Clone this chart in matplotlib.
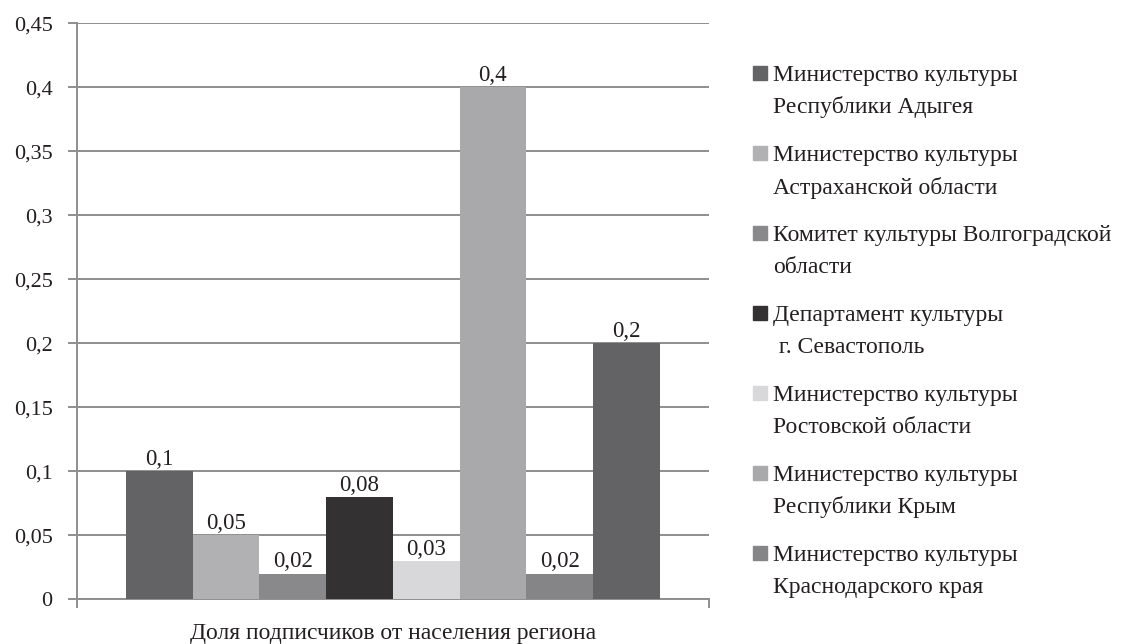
import matplotlib.pyplot as plt
from matplotlib.patches import Rectangle

plt.rcParams['font.family'] = ['Liberation Serif', 'DejaVu Serif']

# данные
labels = ['Министерство культуры\nРеспублики Адыгея',
          'Министерство культуры\nАстраханской области',
          'Комитет культуры Волгоградской\nобласти',
          'Департамент культуры\n г. Севастополь',
          'Министерство культуры\nРостовской области',
          'Министерство культуры\nРеспублики Крым',
          'Министерство культуры\nКраснодарского края']
values = [0.1, 0.05, 0.02, 0.08, 0.03, 0.4, 0.02, 0.2]
value_text = ['0,1', '0,05', '0,02', '0,08', '0,03', '0,4', '0,02', '0,2']
colors = ['#636365', '#b1b1b3', '#89898b', '#333132', '#d8d8da', '#a9a9ab', '#858587', '#636365']
yticks = [0, 0.05, 0.1, 0.15, 0.2, 0.25, 0.3, 0.35, 0.4, 0.45]
ytick_labels = ['0', '0,05', '0,1', '0,15', '0,2', '0,25', '0,3', '0,35', '0,4', '0,45']
xlabel = 'Доля подписчиков от населения региона'

txt = '#231f20'
grid = '#8e8e8e'

fig = plt.figure(figsize=(11.22, 6.44), dpi=100)
ax = fig.add_axes([0.0684, 0.0694, 0.5635, 0.8944])

n = len(values)
w = 0.844 / n
for i in range(n):
    x = -0.422 + w * (i + 0.5)
    ax.bar(x, values[i], width=w, color=colors[i], zorder=3)
    ax.annotate(value_text[i], (x, values[i]), xytext=(0, 1), textcoords='offset points',
                ha='center', va='bottom', fontsize=16.5, color=txt)

ax.set_xlim(-0.5, 0.5)
ax.set_ylim(0, 0.45)
ax.set_yticks(yticks)
ax.set_yticklabels(ytick_labels, fontsize=16, color=txt)
ax.set_xticks([-0.5, 0.5])
ax.set_xticklabels(['', ''])
ax.tick_params(axis='y', length=6.3, width=1.4, color=grid, pad=11)
ax.tick_params(axis='x', length=6.5, width=1.4, color=grid)
ax.yaxis.grid(True, color=grid, linewidth=1.4, zorder=0)
for s in ['top', 'right']:
    ax.spines[s].set_visible(False)
for s in ['left', 'bottom']:
    ax.spines[s].set_color(grid)
    ax.spines[s].set_linewidth(1.4)
ax.set_xlabel(xlabel, fontsize=17, color=txt, va='center')
ax.xaxis.set_label_coords(0.5, -0.059)

# легенда: квадрат у первой строки, строки через 32 px, записи через 80 px
W, H = 1122, 644
for k, lab in enumerate(labels):
    y0 = 73 + 80 * k
    fig.add_artist(Rectangle((753 / W, 1 - (y0 + 7) / H), 14 / W, 14 / H,
                             transform=fig.transFigure, color=colors[k]))
    for j, line in enumerate(lab.split('\n')):
        fig.text(773 / W, 1 - (y0 + 32 * j) / H, line, fontsize=17, color=txt,
                 ha='left', va='center_baseline')

fig.savefig('out.png', dpi=100)
